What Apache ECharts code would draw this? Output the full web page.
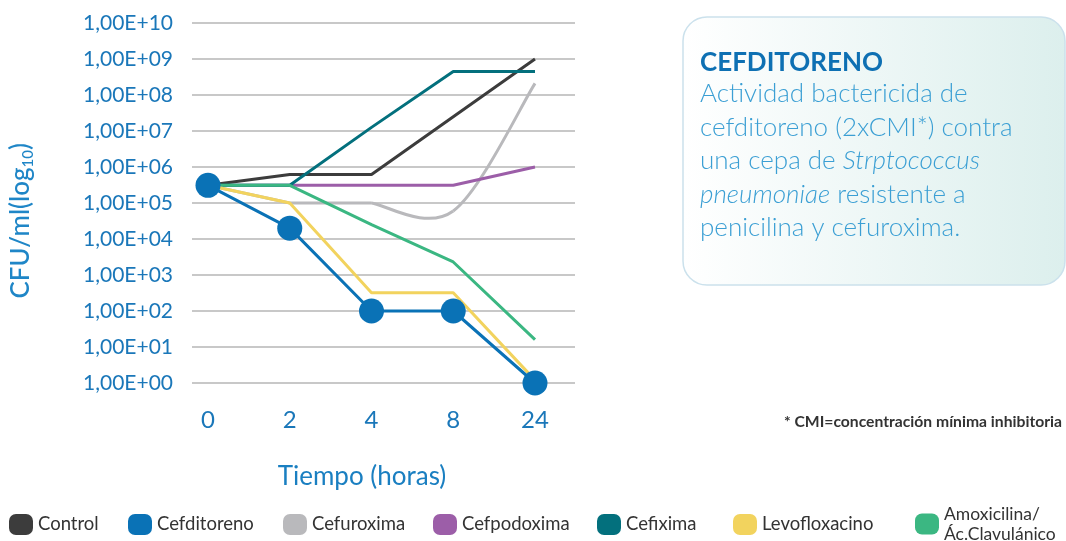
<!DOCTYPE html>
<html>
<head>
<meta charset="utf-8">
<script src="https://cdn.jsdelivr.net/npm/echarts@6/dist/echarts.min.js"></script>
<style>
html,body{margin:0;padding:0;background:#fff;}
#c{width:1066px;height:541px;}
</style>
</head>
<body>
<div id="c"></div>
<script>
// ---- data ----
const hours = ['0', '2', '4', '8', '24'];
const control       = [3.1e5, 6.2e5, 6.2e5, 2.5e7, 1.0e9];
const cefditoreno   = [3.1e5, 2.0e4, 1.0e2, 1.0e2, 1.0];
const cefuroxima    = [3.1e5, 1.0e5, 1.0e5, 6.0e4, 2.1e8];
const cefpodoxima   = [3.1e5, 3.1e5, 3.1e5, 3.1e5, 1.0e6];
const cefixima      = [3.1e5, 3.1e5, 1.26e7, 4.5e8, 4.5e8];
const levofloxacino = [3.1e5, 1.0e5, 3.2e2, 3.2e2, 1.2];
const amoxicilina   = [3.1e5, 3.1e5, 2.5e4, 2.3e3, 16];
const yExponents    = [0, 1, 2, 3, 4, 5, 6, 7, 8, 9, 10];

const names = ['Control', 'Cefditoreno', 'Cefuroxima', 'Cefpodoxima', 'Cefixima', 'Levofloxacino', 'Amoxicilina/Ác.Clavulánico'];
const colors = {
  'Control': '#3c3c3c',
  'Cefditoreno': '#0a72b6',
  'Cefuroxima': '#b9b9bc',
  'Cefpodoxima': '#9c5ea8',
  'Cefixima': '#03707d',
  'Levofloxacino': '#f2d35e',
  'Amoxicilina/Ác.Clavulánico': '#3bb782'
};
// Cefuroxima is drawn straight up to this index, then as a smooth (Catmull-Rom) curve
const smoothFrom = 2;

const FONT = 'Lato, "Noto Sans", sans-serif';
const chart = echarts.init(document.getElementById('c'), null, {renderer: 'canvas'});

function lineSeries(name, data, extra) {
  return Object.assign({
    name: name,
    type: 'line',
    xAxisIndex: 1,
    yAxisIndex: 1,
    data: data,
    symbol: 'none',
    color: colors[name],
    lineStyle: {width: 3, color: colors[name]},
    itemStyle: {color: colors[name]},
    silent: true,
    animation: false
  }, extra || {});
}

// smooth curve through the data points, positioned with the chart's own scales
function smoothSeries(name, values, from) {
  return {
    name: name,
    type: 'custom',
    xAxisIndex: 1,
    yAxisIndex: 1,
    data: values.map((v, i) => [i, v]),
    encode: {x: 0, y: 1},
    itemStyle: {color: colors[name]},
    silent: true,
    animation: false,
    renderItem: function (params, api) {
      const i = params.dataIndex;
      if (i <= from) return null;
      const n = values.length;
      const P = k => {
        const kk = Math.max(from, Math.min(n - 1, k));
        return api.coord([kk, values[kk]]);
      };
      const p0 = P(i - 2), p1 = P(i - 1), p2 = P(i), p3 = P(i + 1);
      const t = 1 / 6;
      return {
        type: 'bezierCurve',
        shape: {
          x1: p1[0], y1: p1[1], x2: p2[0], y2: p2[1],
          cpx1: p1[0] + (p2[0] - p0[0]) * t, cpy1: p1[1] + (p2[1] - p0[1]) * t,
          cpx2: p2[0] - (p3[0] - p1[0]) * t, cpy2: p2[1] - (p3[1] - p1[1]) * t
        },
        style: {stroke: colors[name], lineWidth: 3, fill: null}
      };
    }
  };
}

const legendLefts = [9, 128, 283, 433, 597, 733, 915];
const iconPath = 'path://M7,0 H17 A7,7 0 0 1 24,7 V14 A7,7 0 0 1 17,21 H7 A7,7 0 0 1 0,14 V7 A7,7 0 0 1 7,0 Z';
const legends = names.map((n, i) => ({
  data: [n],
  left: legendLefts[i],
  top: n.indexOf('/') >= 0 ? 504 : 514,
  padding: 0,
  itemWidth: 24,
  itemHeight: 21,
  icon: iconPath,
  selectedMode: false,
  textStyle: {fontFamily: FONT, fontSize: n.indexOf('/') >= 0 ? 17.5 : 18.5, color: '#333', lineHeight: 20},
  formatter: function (s) { return s.replace('/', '/\n'); }
}));

const option = {
  animation: false,
  textStyle: {fontFamily: FONT},
  legend: legends,
  grid: [
    {left: 192, width: 383, top: 23, height: 360},
    {left: 208, width: 327, top: 23, height: 360}
  ],
  xAxis: [
    {gridIndex: 0, type: 'value', min: 0, max: 1, show: false},
    {
      gridIndex: 1, type: 'category', data: hours, boundaryGap: false,
      axisLine: {show: false}, axisTick: {show: false}, splitLine: {show: false},
      axisLabel: {fontFamily: FONT, fontSize: 24, color: '#1a77b9', margin: 25}
    }
  ],
  yAxis: [
    {
      gridIndex: 0, type: 'log', logBase: 10, min: 1, max: 1e10, interval: 1,
      axisLine: {show: false}, axisTick: {show: false},
      splitLine: {show: true, lineStyle: {color: '#c8c8c8', width: 2}},
      axisLabel: {
        fontFamily: FONT, fontSize: 21, color: '#1a77b9', margin: 19,
        formatter: function (v) {
          const e = Math.round(Math.log10(v));
          if (yExponents.indexOf(e) < 0) return '';
          return '1,00E+' + (e < 10 ? '0' + e : '' + e);
        }
      }
    },
    {gridIndex: 1, type: 'log', logBase: 10, min: 1, max: 1e10, interval: 1, show: false}
  ],
  series: [
    lineSeries('Cefuroxima', cefuroxima.map((v, i) => i <= smoothFrom ? v : null)),
    smoothSeries('Cefuroxima', cefuroxima, smoothFrom),
    lineSeries('Cefpodoxima', cefpodoxima),
    lineSeries('Control', control),
    lineSeries('Cefixima', cefixima),
    lineSeries('Amoxicilina/Ác.Clavulánico', amoxicilina),
    lineSeries('Levofloxacino', levofloxacino),
    lineSeries('Cefditoreno', cefditoreno, {symbol: 'circle', symbolSize: 25, showSymbol: true, z: 10})
  ],
  graphic: [
    {
      type: 'text', left: 8, top: 143, rotation: Math.PI / 2,
      style: {
        text: '{a|CFU/ml(log}{s|10}{a|)}',
        fontFamily: FONT,
        rich: {
          a: {fontSize: 26, fontWeight: 500, fill: '#1f86c7', lineHeight: 30, fontFamily: FONT},
          s: {fontSize: 15, fontWeight: 500, fill: '#1f86c7', lineHeight: 15, verticalAlign: 'bottom', fontFamily: FONT}
        }
      }
    },
    {
      type: 'text', x: 362, y: 477,
      style: {text: 'Tiempo (horas)', fontFamily: FONT, fontSize: 26, fill: '#1a7fc1', align: 'center', verticalAlign: 'middle'}
    },
    {
      type: 'text', x: 1062, y: 422,
      style: {text: '* CMI=concentración mínima inhibitoria', fontFamily: FONT, fontSize: 15.7, fontWeight: 'bold', fill: '#333', align: 'right', verticalAlign: 'middle'}
    },
    {
      type: 'rect', shape: {x: 683, y: 17, width: 382, height: 268, r: 24},
      style: {
        fill: new echarts.graphic.LinearGradient(0, 0, 1, 0, [
          {offset: 0, color: '#ffffff'}, {offset: 1, color: '#dcefed'}
        ]),
        stroke: '#cbe1ec', lineWidth: 1.5
      }
    },
    {
      type: 'text', x: 700, y: 63,
      style: {text: 'CEFDITORENO', fontFamily: FONT, fontSize: 26, fontWeight: 'bold', fill: '#0e70b3', verticalAlign: 'middle'}
    },
    {
      type: 'text', x: 700, y: 77,
      style: {
        text: '{r|Actividad bactericida de}\n{r|cefditoreno (2xCMI*) contra}\n{r|una cepa de }{i|Strptococcus}\n{i|pneumoniae}{r| resistente a}\n{r|penicilina y cefuroxima.}',
        fontFamily: FONT,
        rich: {
          r: {fontFamily: FONT, fontSize: 26, fontWeight: 300, fill: '#3b9fd4', lineHeight: 33.5},
          i: {fontFamily: FONT, fontSize: 26, fontWeight: 300, fontStyle: 'italic', fill: '#3b9fd4', lineHeight: 33.5}
        }
      }
    }
  ]
};
chart.setOption(option);
</script>
</body>
</html>
